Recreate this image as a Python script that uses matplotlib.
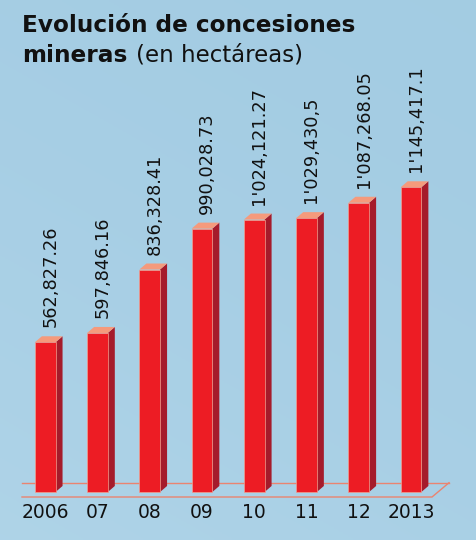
import numpy as np
import matplotlib
matplotlib.use("Agg")
import matplotlib.pyplot as plt
from matplotlib.patches import Polygon, Rectangle
from matplotlib.lines import Line2D

# ---- data ----
years = ["2006", "07", "08", "09", "10", "11", "12", "2013"]
values = [562827.26, 597846.16, 836328.41, 990028.73, 1024121.27,
          1029430.5, 1087268.05, 1145417.1]
value_labels = ["562,827.26", "597,846.16", "836,328.41", "990,028.73",
                "1'024,121.27", "1'029,430,5", "1'087,268.05", "1'145,417.1"]

W, H, DPI = 477, 540, 100
fig = plt.figure(figsize=(W / DPI, H / DPI), dpi=DPI)

# background gradient
bg = fig.add_axes([0, 0, 1, 1], zorder=-10)
yy, xx = np.mgrid[0:1:200j, 0:1:200j]
top = np.array([0.640, 0.800, 0.890])
bot = np.array([0.685, 0.830, 0.910])
t = np.clip((yy * 0.8 + (1 - xx) * 0.4) / 1.2, 0, 1)[..., None] ** 1.5
img = top * (1 - t) + bot * t
bg.imshow(img, aspect="auto", extent=[0, 1, 0, 1], origin="upper")
bg.set_axis_off()

# main axes
pitch = 52.26
x0_px = 45.2
left_px = x0_px - 0.5 * pitch
ax_w_px = 8 * pitch
zero_px = 48.0
ymax = 1.6e6
units_per_px = 3759.0
ax_h_px = ymax / units_per_px
ax = fig.add_axes([left_px / W, zero_px / H, ax_w_px / W, ax_h_px / H])
ax.set_xlim(-0.5, 7.5)
ax.set_ylim(0, ymax)
ax.patch.set_visible(False)
for s in ax.spines.values():
    s.set_visible(False)
ax.set_yticks([])

px_x = 1.0 / pitch          # data units per pixel (x)
px_y = units_per_px         # data units per pixel (y)

bw = 20.7 * px_x
dx = 7 * px_x
dy = 6 * px_y

front_c = "#ed1c24"
side_c = "#a51b2b"
top_c = "#f59a7c"
floor_c = "#ea8470"

# floor
fl = -0.444
fr_back = 7.727
fr_front = 7.402
yb = 9.3 * px_y
yf = -5 * px_y
ax.add_line(Line2D([fl, fr_back], [yb, yb], color=floor_c, lw=1.0, clip_on=False, zorder=1))
ax.add_line(Line2D([fl, fr_front, fr_back], [yf, yf, yb], color=floor_c, lw=1.0, clip_on=False, zorder=1))

for i, v in enumerate(values):
    xl = i - bw / 2
    xr = i + bw / 2
    ax.add_patch(Polygon([(xr, 0), (xr + dx, dy), (xr + dx, v + dy), (xr, v)],
                         closed=True, facecolor=side_c, edgecolor="none", zorder=3, clip_on=False))
    ax.add_patch(Polygon([(xl, v), (xr, v), (xr + dx, v + dy), (xl + dx, v + dy)],
                         closed=True, facecolor=top_c, edgecolor="none", zorder=3, clip_on=False))
    ax.add_patch(Rectangle((xl, 0), bw, v, facecolor=front_c, edgecolor="#f0a090",
                           lw=0.5, zorder=4, clip_on=False))
    ax.text(i + 5 * px_x, v + 15 * px_y, value_labels[i], rotation=90,
            ha="center", va="bottom", fontsize=12.8, color="#111111",
            family="DejaVu Sans", zorder=5)

ax.set_xticks(range(len(years)))
ax.set_xticklabels(years, fontsize=13.5, color="#111111", family="DejaVu Sans")
ax.tick_params(axis="x", length=0, pad=8)

# title
t1 = fig.text(22 / W, 1 - 32 / H, "Evolución de concesiones", fontsize=16.7,
              fontweight="bold", family="DejaVu Sans", color="#111111", va="baseline")
t2 = fig.text(22 / W, 1 - 62 / H, "mineras", fontsize=16.7,
              fontweight="bold", family="DejaVu Sans", color="#111111", va="baseline")
fig.canvas.draw()
bb = t2.get_window_extent()
fig.text((bb.x1 + 9) / W, 1 - 62 / H, "(en hectáreas)", fontsize=16.5,
         family="DejaVu Sans", color="#111111", va="baseline")

fig.savefig("out.png", dpi=DPI)
